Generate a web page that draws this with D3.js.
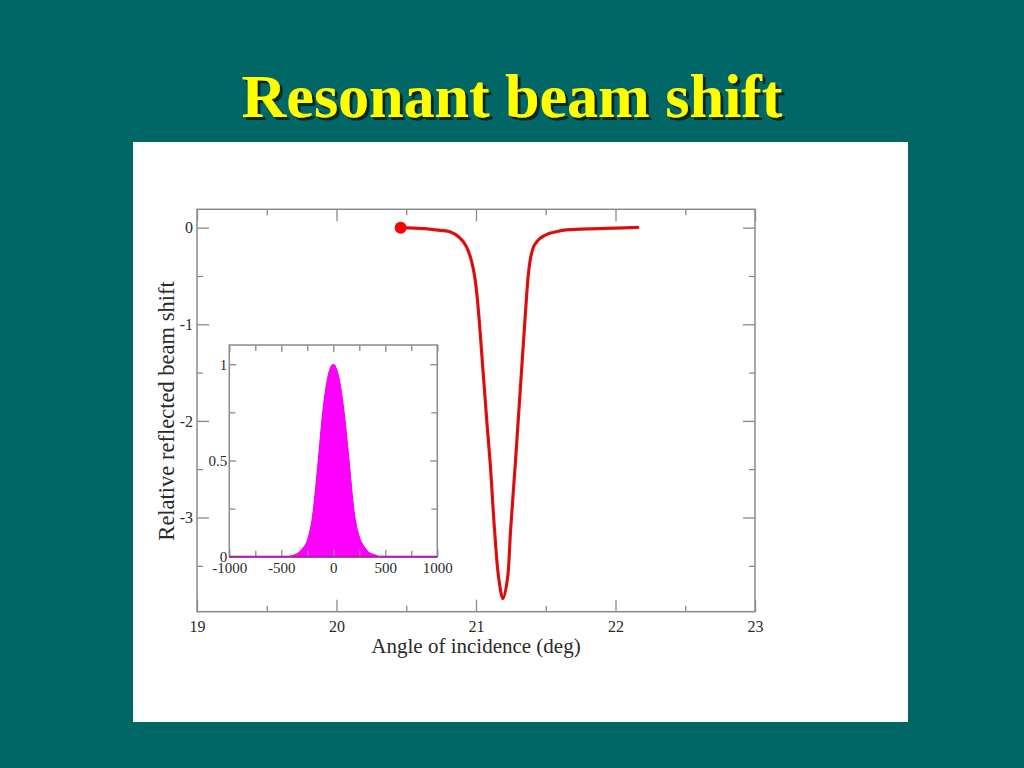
<!DOCTYPE html>
<html>
<head>
<meta charset="utf-8">
<script src="https://cdn.jsdelivr.net/npm/d3@7"></script>
<style>
  body { margin: 0; background: #006666; }
  svg { display: block; }
</style>
</head>
<body>
<div id="chart"></div>
<script>
// main curve: relative reflected beam shift vs angle of incidence
const angle = [20.46, 20.55, 20.65, 20.745, 20.817, 20.877, 20.925, 20.956, 20.985, 21.002,
  21.024, 21.042, 21.06, 21.078, 21.102, 21.133, 21.164, 21.193, 21.225, 21.248, 21.282,
  21.301, 21.318, 21.334, 21.35, 21.365, 21.377, 21.395, 21.419, 21.46, 21.519, 21.567,
  21.63, 21.8, 22.0, 22.16];
const shift = [0, -0.004, -0.012, -0.028, -0.045, -0.096, -0.18, -0.286, -0.46, -0.63,
  -0.976, -1.32, -1.667, -2.01, -2.44, -3.13, -3.64, -3.84, -3.64, -3.13, -2.44,
  -2.03, -1.667, -1.32, -0.976, -0.66, -0.46, -0.286, -0.18, -0.11, -0.062, -0.045,
  -0.025, -0.012, -0.004, 0.003];
// starting point marker
const markerAngle = [20.46];
const markerShift = [0];

// inset: incident beam profile
const beamPos = [-1000, -450, -400, -350, -300, -250, -200, -150, -100, -50, 0,
  50, 100, 150, 200, 250, 300, 350, 400, 450, 1000];
const beamInt = [0, 0, 0.005, 0.015, 0.04, 0.085, 0.21, 0.47, 0.76, 0.94, 1,
  0.94, 0.77, 0.51, 0.235, 0.105, 0.05, 0.02, 0.01, 0, 0];

// ticks
const mainXTicks = [19, 20, 21, 22, 23];
const mainXMinor = [19.5, 20.5, 21.5, 22.5];
const mainYTicks = [0, -1, -2, -3];
const mainYMinor = [-0.5, -1.5, -2.5, -3.5];
const insetXTicks = [-1000, -500, 0, 500, 1000];
const insetXMinor = [-750, -250, 250, 750];
const insetYTicks = [0, 0.5, 1];
const insetYMinor = [0.25, 0.75];

const width = 1024, height = 768,
  serif = "'Liberation Serif', 'Times New Roman', serif",
  frameColor = "#8a8a8a";

const svg = d3.select("#chart").append("svg")
  .attr("width", width).attr("height", height);

svg.append("rect").attr("width", width).attr("height", height).attr("fill", "#006666");

// drop shadow for the title
svg.append("defs").append("filter")
  .attr("id", "shadow").attr("x", "-10%").attr("y", "-30%")
  .attr("width", "120%").attr("height", "160%")
  .append("feDropShadow")
  .attr("dx", 3).attr("dy", 3).attr("stdDeviation", 0.6)
  .attr("flood-color", "#0c2626").attr("flood-opacity", 1);

svg.append("text")
  .attr("x", 512).attr("y", 117)
  .attr("text-anchor", "middle").attr("font-family", serif)
  .attr("font-weight", "bold").attr("font-size", 62)
  .attr("fill", "#ffff00").attr("filter", "url(#shadow)")
  .text("Resonant beam shift");

// white panel
svg.append("rect")
  .attr("x", 133).attr("y", 142).attr("width", 775).attr("height", 580)
  .attr("fill", "#ffffff");

// draw one set of inside ticks
function ticks(g, axis, tx, ty, values, size, labelled, pad, fs) {
  const a = g.append("g")
    .attr("transform", `translate(${tx},${ty})`)
    .call(axis.tickValues(values)
      .tickSizeInner(-size).tickSizeOuter(0).tickPadding(pad)
      .tickFormat(labelled ? (d => String(d)) : ""));
  a.select(".domain").remove();
  a.selectAll("line").attr("stroke", frameColor).attr("stroke-width", 1.3);
  a.selectAll("text")
    .attr("font-family", serif).attr("font-size", fs).attr("fill", "#2a2a2a");
}

function frame(g, x, y, t) {
  const [xl, xr] = x.range(), [yb, yt] = y.range();
  ticks(g, d3.axisBottom(x), 0, yb, t.xMaj, t.maj, true, t.xPad, t.fs);
  ticks(g, d3.axisBottom(x), 0, yb, t.xMin, t.min, false, 0, t.fs);
  ticks(g, d3.axisTop(x), 0, yt, t.xMaj, t.maj, false, 0, t.fs);
  ticks(g, d3.axisTop(x), 0, yt, t.xMin, t.min, false, 0, t.fs);
  ticks(g, d3.axisLeft(y), xl, 0, t.yMaj, t.maj, true, t.yPad, t.fs);
  ticks(g, d3.axisLeft(y), xl, 0, t.yMin, t.min, false, 0, t.fs);
  ticks(g, d3.axisRight(y), xr, 0, t.yMaj, t.maj, false, 0, t.fs);
  ticks(g, d3.axisRight(y), xr, 0, t.yMin, t.min, false, 0, t.fs);
  g.append("rect")
    .attr("x", xl).attr("y", yt).attr("width", xr - xl).attr("height", yb - yt)
    .attr("fill", "none").attr("stroke", frameColor).attr("stroke-width", 1.5);
}

// ---- main plot ----
const x = d3.scaleLinear().domain([19, 23]).range([197, 755]);
const y = d3.scaleLinear().domain([-3.975, 0.19]).range([611.7, 209.3]);

const main = svg.append("g");
frame(main, x, y, {
  xMaj: mainXTicks, xMin: mainXMinor, yMaj: mainYTicks, yMin: mainYMinor,
  maj: 12, min: 6, xPad: 9, yPad: 4, fs: 16
});

const curve = angle.map((a, i) => [a, shift[i]]);
const line = d3.line()
  .curve(d3.curveCatmullRom.alpha(0.5))
  .x(d => x(d[0])).y(d => y(d[1]));

main.append("path").datum(curve)
  .attr("d", line).attr("fill", "none")
  .attr("stroke", "#ee1111").attr("stroke-width", 3.2)
  .attr("stroke-linejoin", "round").attr("stroke-linecap", "round");
main.append("path").datum(curve)
  .attr("d", line).attr("fill", "none")
  .attr("stroke", "#7a1a1a").attr("stroke-width", 1).attr("opacity", 0.55);

main.selectAll("circle.marker")
  .data(markerAngle.map((a, i) => [a, markerShift[i]]))
  .join("circle").attr("class", "marker")
  .attr("cx", d => x(d[0])).attr("cy", d => y(d[1])).attr("r", 6)
  .attr("fill", "#ff0000");

main.append("text")
  .attr("x", 476).attr("y", 653)
  .attr("text-anchor", "middle").attr("font-family", serif)
  .attr("font-size", 21).attr("fill", "#2a2a2a")
  .text("Angle of incidence (deg)");

main.append("text")
  .attr("transform", "translate(174,411) rotate(-90)")
  .attr("text-anchor", "middle").attr("font-family", serif)
  .attr("font-size", 22.5).attr("fill", "#2a2a2a")
  .text("Relative reflected beam shift");

// ---- inset ----
const ix = d3.scaleLinear().domain([-1000, 1000]).range([229.3, 437.3]);
const iy = d3.scaleLinear().domain([0, 1.1]).range([556.7, 345]);

const inset = svg.append("g");
inset.append("rect")
  .attr("x", 229.3).attr("y", 345).attr("width", 208).attr("height", 211.7)
  .attr("fill", "#ffffff");

const beam = beamPos.map((p, i) => [p, beamInt[i]]);
inset.append("path").datum(beam)
  .attr("d", d3.area().curve(d3.curveMonotoneX)
    .x(d => ix(d[0])).y0(iy(0)).y1(d => iy(d[1])))
  .attr("fill", "#ff00ff").attr("stroke", "#e600e6").attr("stroke-width", 1);

frame(inset, ix, iy, {
  xMaj: insetXTicks, xMin: insetXMinor, yMaj: insetYTicks, yMin: insetYMinor,
  maj: 7, min: 6, xPad: 6, yPad: 2, fs: 15
});

inset.append("line")
  .attr("x1", ix(-1000)).attr("x2", ix(1000))
  .attr("y1", iy(0)).attr("y2", iy(0))
  .attr("stroke", "#b01cb0").attr("stroke-width", 2);
</script>
</body>
</html>
